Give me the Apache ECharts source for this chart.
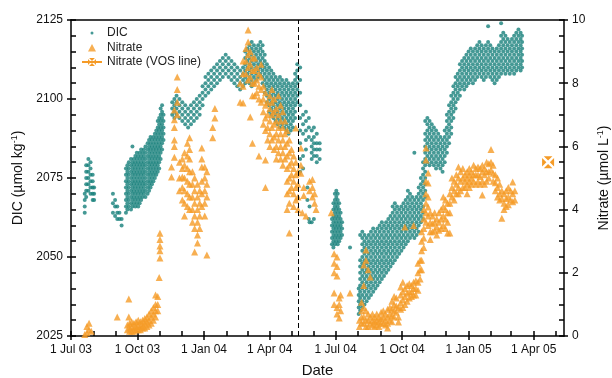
<!DOCTYPE html>
<html>
<head>
<meta charset="utf-8">
<script src="https://cdn.jsdelivr.net/npm/echarts@6/dist/echarts.min.js"></script>
<style>
  html, body { margin: 0; padding: 0; background: #fff; }
  #chart { width: 612px; height: 378px; }
</style>
</head>
<body>
<div id="chart"></div>
<script>
const dateMin = '2003-07-01';
const dateMax = '2005-05-13';
const majorTickDates = ['2003-07-01', '2003-10-01', '2004-01-01', '2004-04-01', '2004-07-01',
  '2004-10-01', '2005-01-01', '2005-04-01'];
const minorTickDates = ['2003-07-01', '2003-08-01', '2003-09-01', '2003-10-01', '2003-11-01', '2003-12-01',
  '2004-01-01', '2004-02-01', '2004-03-01', '2004-04-01', '2004-05-01', '2004-06-01', '2004-07-01',
  '2004-08-01', '2004-09-01', '2004-10-01', '2004-11-01', '2004-12-01', '2005-01-01', '2005-02-01',
  '2005-03-01', '2005-04-01', '2005-05-01'];
const monthNames = ['Jan', 'Feb', 'Mar', 'Apr', 'May', 'Jun', 'Jul', 'Aug', 'Sep', 'Oct', 'Nov', 'Dec'];
const dicTicks = [2025, 2125, 25];
const nitrateTicks = [0, 10, 2];
const cruiseBreakDate = '2004-05-11';

// DIC (umol/kg), grouped by sampling day
const dicByDay = [
  ['2003-07-20', [2070, 2068, 2066, 2064]],
  ['2003-07-22', [2079, 2077, 2075, 2073, 2071, 2069]],
  ['2003-07-25', [2081, 2079, 2077, 2075, 2073, 2071]],
  ['2003-07-28', [2080, 2078, 2076, 2074, 2072, 2070]],
  ['2003-07-31', [2076, 2074, 2072, 2070, 2068]],
  ['2003-08-02', [2072, 2070, 2068]],
  ['2003-08-28', [2070, 2067, 2064]],
  ['2003-08-31', [2068, 2066, 2063]],
  ['2003-09-03', [2066, 2064, 2062]],
  ['2003-09-06', [2064, 2062]],
  ['2003-09-09', [2062, 2060]],
  ['2003-09-15', [2078, 2076, 2074, 2072, 2070, 2068, 2066, 2064]],
  ['2003-09-17', [2079, 2077, 2075, 2073, 2071, 2069, 2067, 2065]],
  ['2003-09-19', [2080, 2078, 2076, 2074, 2072, 2070, 2068, 2066]],
  ['2003-09-22', [2081, 2079, 2077, 2075, 2073, 2071, 2069, 2067, 2065]],
  ['2003-09-24', [2085, 2080, 2078, 2076, 2074, 2072, 2070, 2068, 2066]],
  ['2003-09-26', [2081, 2079, 2077, 2075, 2073, 2071, 2069, 2067]],
  ['2003-09-28', [2082, 2080, 2078, 2076, 2074, 2072, 2070, 2068, 2066]],
  ['2003-09-30', [2083, 2081, 2079, 2077, 2075, 2073, 2071, 2069, 2067]],
  ['2003-10-02', [2082, 2080, 2078, 2076, 2074, 2072, 2070, 2068, 2066]],
  ['2003-10-04', [2083, 2081, 2079, 2077, 2075, 2073, 2071, 2069, 2067]],
  ['2003-10-06', [2084, 2082, 2080, 2078, 2076, 2074, 2072, 2070, 2068]],
  ['2003-10-08', [2083, 2081, 2079, 2077, 2075, 2073, 2071, 2069]],
  ['2003-10-10', [2084, 2082, 2080, 2078, 2076, 2074, 2072, 2070]],
  ['2003-10-12', [2085, 2083, 2081, 2079, 2077, 2075, 2073, 2071, 2069]],
  ['2003-10-15', [2086, 2084, 2082, 2080, 2078, 2076, 2074, 2072, 2070]],
  ['2003-10-17', [2087, 2085, 2083, 2081, 2079, 2077, 2075, 2073, 2071]],
  ['2003-10-19', [2088, 2086, 2084, 2082, 2080, 2078, 2076, 2074, 2072]],
  ['2003-10-21', [2087, 2085, 2083, 2081, 2079, 2077, 2075, 2073]],
  ['2003-10-23', [2088, 2086, 2084, 2082, 2080, 2078, 2076, 2074]],
  ['2003-10-25', [2089, 2087, 2085, 2083, 2081, 2079, 2077, 2075]],
  ['2003-10-27', [2090, 2088, 2086, 2084, 2082, 2080, 2078, 2076]],
  ['2003-10-29', [2093, 2091, 2089, 2087, 2085, 2083, 2081, 2079, 2077]],
  ['2003-10-31', [2094, 2092, 2090, 2088, 2086, 2084, 2082, 2080, 2078]],
  ['2003-11-02', [2097, 2095, 2093, 2091, 2089, 2087, 2085, 2083, 2081]],
  ['2003-11-04', [2098, 2096, 2094, 2092, 2090, 2088, 2086, 2084]],
  ['2003-11-06', [2095, 2093, 2091, 2089, 2087]],
  ['2003-11-18', [2099, 2097, 2095]],
  ['2003-11-21', [2100, 2098, 2096, 2094]],
  ['2003-11-24', [2101, 2099, 2097, 2095]],
  ['2003-11-28', [2100, 2098, 2096, 2094]],
  ['2003-12-02', [2099, 2097, 2095, 2093]],
  ['2003-12-06', [2098, 2096, 2094, 2092]],
  ['2003-12-10', [2097, 2095, 2093, 2091]],
  ['2003-12-14', [2098, 2096, 2094, 2092]],
  ['2003-12-18', [2099, 2097, 2095, 2093]],
  ['2003-12-22', [2100, 2098, 2096, 2094]],
  ['2003-12-26', [2101, 2099, 2097, 2095]],
  ['2003-12-30', [2104, 2102, 2100, 2098]],
  ['2004-01-03', [2107, 2105, 2103, 2101]],
  ['2004-01-07', [2108, 2106, 2104, 2102]],
  ['2004-01-11', [2109, 2107, 2105, 2103]],
  ['2004-01-15', [2110, 2108, 2106, 2104]],
  ['2004-01-19', [2111, 2109, 2107, 2105]],
  ['2004-01-23', [2112, 2110, 2108, 2106]],
  ['2004-01-27', [2113, 2111, 2109, 2107]],
  ['2004-01-31', [2114, 2112, 2110, 2108]],
  ['2004-02-04', [2113, 2111, 2109, 2107]],
  ['2004-02-08', [2112, 2110, 2108, 2106]],
  ['2004-02-12', [2111, 2109, 2107, 2105]],
  ['2004-02-16', [2110, 2108, 2106, 2104]],
  ['2004-02-20', [2109, 2107, 2105, 2103]],
  ['2004-02-24', [2110, 2108, 2106, 2104]],
  ['2004-02-27', [2115, 2113, 2111, 2109, 2107, 2105]],
  ['2004-03-01', [2116, 2114, 2112, 2110, 2108, 2106]],
  ['2004-03-04', [2117, 2115, 2113, 2111, 2109, 2107, 2105]],
  ['2004-03-07', [2118, 2116, 2114, 2112, 2110, 2108, 2106, 2104]],
  ['2004-03-10', [2117, 2115, 2113, 2111, 2109, 2107, 2105]],
  ['2004-03-13', [2116, 2114, 2112, 2110, 2108, 2106]],
  ['2004-03-16', [2117, 2115, 2113, 2111, 2109, 2107]],
  ['2004-03-19', [2118, 2116, 2114, 2112, 2110, 2108]],
  ['2004-03-22', [2117, 2115, 2113, 2111, 2109, 2107, 2105]],
  ['2004-03-25', [2114, 2112, 2110, 2108, 2106, 2104, 2102]],
  ['2004-03-28', [2111, 2109, 2107, 2105, 2103, 2101, 2099]],
  ['2004-03-31', [2110, 2108, 2106, 2104, 2102, 2100, 2098, 2096]],
  ['2004-04-03', [2109, 2107, 2105, 2103, 2101, 2099, 2097, 2095]],
  ['2004-04-06', [2108, 2106, 2104, 2102, 2100, 2098, 2096, 2094]],
  ['2004-04-09', [2107, 2105, 2103, 2101, 2099, 2097, 2095, 2093]],
  ['2004-04-12', [2106, 2104, 2102, 2100, 2098, 2096, 2094, 2092]],
  ['2004-04-15', [2107, 2105, 2103, 2101, 2099, 2097, 2095, 2093, 2091]],
  ['2004-04-18', [2106, 2104, 2102, 2100, 2098, 2096, 2094, 2092]],
  ['2004-04-21', [2105, 2103, 2101, 2099, 2097, 2095, 2093, 2091]],
  ['2004-04-24', [2106, 2104, 2102, 2100, 2098, 2096, 2094, 2092, 2090]],
  ['2004-04-27', [2105, 2103, 2101, 2099, 2097, 2095, 2093, 2091, 2089]],
  ['2004-04-30', [2104, 2102, 2100, 2098, 2096, 2094, 2092, 2090]],
  ['2004-05-03', [2105, 2103, 2101, 2099, 2097, 2095, 2093, 2091]],
  ['2004-05-06', [2108, 2106, 2104, 2102, 2100, 2098, 2096, 2094]],
  ['2004-05-09', [2111, 2109, 2107, 2105, 2103, 2101, 2099]],
  ['2004-05-13', [2110, 2106, 2102, 2098, 2094, 2090, 2086, 2081, 2077]],
  ['2004-05-17', [2095, 2092, 2089, 2082, 2078]],
  ['2004-05-21', [2096, 2093, 2090, 2087, 2084]],
  ['2004-05-23', [2072, 2068]],
  ['2004-05-25', [2094, 2091, 2088, 2062]],
  ['2004-05-26', [2066, 2061]],
  ['2004-05-29', [2090, 2087, 2085, 2083, 2081, 2061]],
  ['2004-06-01', [2091, 2088, 2086, 2084, 2082, 2062]],
  ['2004-06-05', [2089, 2086, 2084, 2082, 2080]],
  ['2004-06-09', [2086, 2084, 2081]],
  ['2004-06-26', [2062, 2060, 2058, 2056, 2054]],
  ['2004-06-28', [2067, 2065, 2063, 2061, 2059, 2057, 2055, 2053]],
  ['2004-06-30', [2070, 2068, 2066, 2064, 2062, 2060, 2058, 2056, 2054]],
  ['2004-07-02', [2071, 2069, 2067, 2065, 2063, 2061, 2059, 2057, 2055]],
  ['2004-07-04', [2070, 2068, 2066, 2064, 2062, 2060, 2058, 2056, 2054]],
  ['2004-07-06', [2067, 2065, 2063, 2061, 2059, 2057, 2055]],
  ['2004-07-08', [2064, 2062, 2060, 2058, 2056]],
  ['2004-07-10', [2061, 2059, 2057]],
  ['2004-07-21', [2053]],
  ['2004-08-02', [2040, 2038, 2036, 2034, 2032]],
  ['2004-08-04', [2057, 2049, 2047, 2045, 2043, 2041, 2039, 2037, 2035, 2033]],
  ['2004-08-07', [2058, 2056, 2054, 2052, 2050, 2048, 2046, 2044, 2042, 2040, 2038, 2036, 2034]],
  ['2004-08-10', [2057, 2055, 2053, 2051, 2049, 2047, 2045, 2043, 2041, 2039, 2037, 2035]],
  ['2004-08-13', [2056, 2054, 2052, 2050, 2048, 2046, 2044, 2042, 2040, 2038, 2036]],
  ['2004-08-16', [2057, 2055, 2053, 2051, 2049, 2047, 2045, 2043, 2041, 2039, 2037]],
  ['2004-08-19', [2058, 2056, 2054, 2052, 2050, 2048, 2046, 2044, 2042, 2040, 2038]],
  ['2004-08-22', [2059, 2057, 2055, 2053, 2051, 2049, 2047, 2045, 2043, 2041, 2039]],
  ['2004-08-25', [2058, 2056, 2054, 2052, 2050, 2048, 2046, 2044, 2042, 2040]],
  ['2004-08-28', [2059, 2057, 2055, 2053, 2051, 2049, 2047, 2045, 2043, 2041]],
  ['2004-08-31', [2060, 2058, 2056, 2054, 2052, 2050, 2048, 2046, 2044, 2042]],
  ['2004-09-03', [2061, 2059, 2057, 2055, 2053, 2051, 2049, 2047, 2045, 2043]],
  ['2004-09-06', [2060, 2058, 2056, 2054, 2052, 2050, 2048, 2046, 2044]],
  ['2004-09-09', [2061, 2059, 2057, 2055, 2053, 2051, 2049, 2047, 2045]],
  ['2004-09-12', [2062, 2060, 2058, 2056, 2054, 2052, 2050, 2048, 2046]],
  ['2004-09-15', [2063, 2061, 2059, 2057, 2055, 2053, 2051, 2049, 2047]],
  ['2004-09-18', [2066, 2064, 2062, 2060, 2058, 2056, 2054, 2052, 2050, 2048]],
  ['2004-09-21', [2067, 2065, 2063, 2061, 2059, 2057, 2055, 2053, 2051, 2049]],
  ['2004-09-24', [2066, 2064, 2062, 2060, 2058, 2056, 2054, 2052, 2050]],
  ['2004-09-27', [2065, 2063, 2061, 2059, 2057, 2055, 2053, 2051]],
  ['2004-09-30', [2066, 2064, 2062, 2060, 2058, 2056, 2054, 2052]],
  ['2004-10-03', [2067, 2065, 2063, 2061, 2059, 2057, 2055, 2053]],
  ['2004-10-06', [2068, 2066, 2064, 2062, 2060, 2058, 2056, 2054]],
  ['2004-10-09', [2071, 2069, 2067, 2065, 2063, 2061, 2059, 2057, 2055]],
  ['2004-10-12', [2070, 2068, 2066, 2064, 2062, 2060, 2058, 2056]],
  ['2004-10-15', [2069, 2067, 2065, 2063, 2061, 2059, 2057]],
  ['2004-10-18', [2083, 2068, 2066, 2064, 2062, 2060, 2058, 2056]],
  ['2004-10-21', [2069, 2067, 2065, 2063, 2061, 2059, 2057]],
  ['2004-10-24', [2072, 2070, 2068, 2066, 2064, 2062, 2060, 2058]],
  ['2004-10-27', [2075, 2073, 2071, 2069, 2067, 2065, 2063, 2061]],
  ['2004-10-30', [2080, 2078, 2076, 2074, 2072, 2070, 2068, 2066, 2064, 2062]],
  ['2004-11-02', [2093, 2089, 2087, 2085, 2083, 2081, 2079, 2077, 2075, 2073, 2071, 2069]],
  ['2004-11-05', [2094, 2092, 2090, 2088, 2086, 2084, 2082, 2080]],
  ['2004-11-08', [2093, 2091, 2089, 2087, 2085, 2083, 2081, 2079]],
  ['2004-11-11', [2092, 2090, 2088, 2086, 2084, 2082, 2080]],
  ['2004-11-14', [2091, 2089, 2087, 2085, 2083, 2081, 2079]],
  ['2004-11-17', [2090, 2088, 2086, 2084, 2082, 2080, 2078]],
  ['2004-11-20', [2089, 2087, 2085, 2083, 2081, 2079]],
  ['2004-11-23', [2088, 2086, 2084, 2082, 2080, 2078]],
  ['2004-11-26', [2087, 2085, 2083, 2081, 2079, 2077]],
  ['2004-11-29', [2090, 2088, 2086, 2084, 2082, 2080]],
  ['2004-12-02', [2095, 2093, 2091, 2089, 2087, 2085, 2083]],
  ['2004-12-05', [2098, 2096, 2094, 2092, 2090, 2088, 2086]],
  ['2004-12-08', [2101, 2099, 2097, 2095, 2093, 2091, 2089]],
  ['2004-12-11', [2104, 2102, 2100, 2098, 2096, 2094]],
  ['2004-12-14', [2107, 2105, 2103, 2101, 2099, 2097]],
  ['2004-12-17', [2108, 2106, 2104, 2102, 2100]],
  ['2004-12-20', [2111, 2109, 2107, 2105, 2103, 2101]],
  ['2004-12-23', [2112, 2110, 2108, 2106, 2104]],
  ['2004-12-26', [2113, 2111, 2109, 2107, 2105, 2103]],
  ['2004-12-29', [2114, 2112, 2110, 2108, 2106, 2104]],
  ['2005-01-01', [2115, 2113, 2111, 2109, 2107, 2105]],
  ['2005-01-04', [2116, 2114, 2112, 2110, 2108, 2106]],
  ['2005-01-07', [2115, 2113, 2111, 2109, 2107, 2105]],
  ['2005-01-10', [2116, 2114, 2112, 2110, 2108, 2106]],
  ['2005-01-13', [2117, 2115, 2113, 2111, 2109, 2107]],
  ['2005-01-16', [2118, 2116, 2114, 2112, 2110, 2108]],
  ['2005-01-19', [2117, 2115, 2113, 2111, 2109, 2107]],
  ['2005-01-22', [2116, 2114, 2112, 2110, 2108, 2106]],
  ['2005-01-25', [2117, 2115, 2113, 2111, 2109, 2107]],
  ['2005-01-28', [2123, 2118, 2116, 2114, 2112, 2110, 2108]],
  ['2005-01-31', [2117, 2115, 2113, 2111, 2109, 2107]],
  ['2005-02-03', [2116, 2114, 2112, 2110, 2108, 2106]],
  ['2005-02-06', [2115, 2113, 2111, 2109, 2107, 2105]],
  ['2005-02-09', [2116, 2114, 2112, 2110, 2108, 2106]],
  ['2005-02-12', [2117, 2115, 2113, 2111, 2109, 2107]],
  ['2005-02-15', [2124, 2120, 2118, 2116, 2114, 2112, 2110, 2108]],
  ['2005-02-18', [2121, 2119, 2117, 2115, 2113, 2111, 2109]],
  ['2005-02-21', [2120, 2118, 2116, 2114, 2112, 2110, 2108]],
  ['2005-02-24', [2119, 2117, 2115, 2113, 2111, 2109]],
  ['2005-02-27', [2118, 2116, 2114, 2112, 2110, 2108]],
  ['2005-03-02', [2119, 2117, 2115, 2113, 2111, 2109]],
  ['2005-03-05', [2120, 2118, 2116, 2114, 2112, 2110, 2108]],
  ['2005-03-08', [2121, 2119, 2117, 2115, 2113, 2111, 2109]],
  ['2005-03-11', [2122, 2120, 2118, 2116, 2114, 2112, 2110]],
  ['2005-03-14', [2121, 2119, 2117, 2115, 2113, 2111, 2109]],
  ['2005-03-16', [2120, 2118, 2116, 2114, 2112, 2110]]
];

// Nitrate (umol/L), grouped by sampling day
const nitrateByDay = [
  ['2003-07-20', [0.05]],
  ['2003-07-23', [0.3, 0.1]],
  ['2003-07-26', [0.4, 0.2]],
  ['2003-07-29', [0.15]],
  ['2003-09-03', [0.6]],
  ['2003-09-17', [0.35, 0.2]],
  ['2003-09-19', [1.17, 0.6]],
  ['2003-09-20', [0.4, 0.25, 0.15]],
  ['2003-09-23', [0.45, 0.3, 0.15]],
  ['2003-09-26', [0.4, 0.25, 0.15]],
  ['2003-09-29', [0.45, 0.3, 0.2]],
  ['2003-10-02', [0.5, 0.35, 0.2]],
  ['2003-10-05', [0.45, 0.3, 0.2]],
  ['2003-10-08', [0.5, 0.35, 0.25]],
  ['2003-10-11', [0.55, 0.4, 0.25]],
  ['2003-10-14', [0.6, 0.45, 0.3]],
  ['2003-10-17', [0.7, 0.5, 0.35]],
  ['2003-10-20', [0.8, 0.6, 0.4]],
  ['2003-10-23', [0.9, 0.7, 0.5]],
  ['2003-10-26', [1.3, 1.0, 0.8, 0.6]],
  ['2003-10-29', [1.25, 1.0, 0.8]],
  ['2003-10-31', [1.85]],
  ['2003-11-01', [3.25, 3.05, 2.85, 2.7, 2.47]],
  ['2003-11-17', [5.35, 5.03]],
  ['2003-11-21', [7.15, 6.84, 6.6, 6.2, 6.0, 5.66]],
  ['2003-11-25', [8.2, 7.8, 7.4, 7.0]],
  ['2003-11-28', [5.5, 5.0, 4.6]],
  ['2003-12-02', [5.6, 5.3, 5.03, 4.7, 4.3]],
  ['2003-12-05', [5.8, 5.4, 5.0, 4.6, 4.2, 3.8]],
  ['2003-12-09', [6.1, 5.7, 5.3, 4.9, 4.5, 4.1]],
  ['2003-12-12', [6.27, 5.9, 5.6, 5.2, 4.8, 4.4, 4.0]],
  ['2003-12-16', [5.2, 4.8, 4.4, 4.0, 3.6]],
  ['2003-12-19', [5.0, 4.6, 4.2, 3.8, 3.4, 2.66]],
  ['2003-12-23', [4.8, 4.4, 4.0, 3.6, 3.2, 2.94]],
  ['2003-12-26', [4.6, 4.2, 3.8, 3.4]],
  ['2003-12-29', [5.95, 5.6, 5.35, 4.9, 4.5, 4.1]],
  ['2004-01-02', [5.35, 5.0, 4.6, 4.2, 3.8]],
  ['2004-01-05', [5.2, 4.8, 4.4, 2.56]],
  ['2004-01-13', [6.6, 6.27]],
  ['2004-01-16', [7.2, 6.9]],
  ['2004-02-20', [8.0, 7.4]],
  ['2004-02-24', [8.7, 8.3, 7.9, 7.37]],
  ['2004-02-28', [9.1, 8.7, 8.3]],
  ['2004-03-02', [9.68, 9.3, 8.9, 8.5, 8.1]],
  ['2004-03-05', [9.0, 8.6, 8.2, 6.93]],
  ['2004-03-08', [8.8, 8.4, 8.0, 7.6, 6.1]],
  ['2004-03-11', [8.8, 8.4, 8.0, 7.6]],
  ['2004-03-14', [8.5, 8.1, 7.7]],
  ['2004-03-17', [8.3, 7.9, 7.5, 5.7]],
  ['2004-03-20', [8.6, 8.2, 7.8, 7.4]],
  ['2004-03-23', [7.9, 7.5, 7.1, 6.7]],
  ['2004-03-26', [7.7, 7.3, 6.9, 6.5, 5.57, 4.7]],
  ['2004-03-29', [7.4, 7.0, 6.6, 6.2]],
  ['2004-04-01', [7.6, 7.2, 6.8, 6.4, 6.0]],
  ['2004-04-04', [7.8, 7.4, 7.0, 6.6, 6.2]],
  ['2004-04-07', [7.5, 7.1, 6.7, 6.3, 5.9]],
  ['2004-04-10', [7.2, 6.8, 6.4, 6.0, 5.6]],
  ['2004-04-13', [7.6, 7.0, 6.6, 6.2, 5.8]],
  ['2004-04-16', [7.3, 6.8, 6.4, 6.0, 5.6]],
  ['2004-04-19', [7.1, 6.6, 6.2, 5.8, 5.4]],
  ['2004-04-22', [6.8, 6.4, 6.0, 5.6]],
  ['2004-04-25', [6.5, 6.1, 5.7, 5.3, 4.9, 4.5, 4.0]],
  ['2004-04-28', [6.2, 5.8, 5.4, 5.0, 4.6, 4.2, 3.26]],
  ['2004-05-01', [5.9, 5.5, 5.1, 4.7]],
  ['2004-05-04', [5.7, 5.3, 4.9, 4.5, 4.1]],
  ['2004-05-07', [6.58, 5.5, 5.1, 4.7, 4.3]],
  ['2004-05-10', [5.2, 4.8, 4.4, 4.0]],
  ['2004-05-14', [5.95, 5.4, 5.15]],
  ['2004-05-16', [3.9]],
  ['2004-05-18', [4.7, 4.45]],
  ['2004-05-21', [3.8]],
  ['2004-05-26', [4.9, 4.6]],
  ['2004-05-30', [4.95, 4.7, 4.4]],
  ['2004-06-02', [4.5, 4.2]],
  ['2004-06-04', [4.0]],
  ['2004-06-25', [3.9]],
  ['2004-06-29', [2.6, 2.3, 2.0, 1.36, 1.0]],
  ['2004-07-03', [2.5, 2.2, 1.9, 0.9, 0.7]],
  ['2004-07-06', [1.2, 1.0, 0.57]],
  ['2004-07-08', [1.3, 0.8]],
  ['2004-07-21', [1.36]],
  ['2004-08-03', [0.5, 0.3]],
  ['2004-08-06', [1.07, 0.8, 0.6, 0.41]],
  ['2004-08-09', [2.25, 1.6, 0.9, 0.6, 0.4]],
  ['2004-08-12', [2.72, 2.4, 0.8, 0.5, 0.3]],
  ['2004-08-15', [2.1, 0.7, 0.5, 0.3]],
  ['2004-08-18', [1.87, 0.6, 0.4]],
  ['2004-08-21', [0.7, 0.5, 0.35]],
  ['2004-08-24', [0.6, 0.45, 0.3]],
  ['2004-08-27', [0.7, 0.5, 0.35]],
  ['2004-08-30', [0.6, 0.45, 0.3]],
  ['2004-09-02', [0.75, 0.55, 0.4]],
  ['2004-09-05', [0.8, 0.6, 0.4]],
  ['2004-09-08', [0.7, 0.5, 0.35]],
  ['2004-09-11', [0.85, 0.6, 0.4, 0.25]],
  ['2004-09-14', [0.9, 0.7, 0.5]],
  ['2004-09-17', [1.1, 0.85, 0.65, 0.45]],
  ['2004-09-20', [1.25, 1.0, 0.8, 0.6]],
  ['2004-09-23', [1.2, 0.95, 0.75]],
  ['2004-09-26', [0.9, 0.6, 0.44]],
  ['2004-09-29', [1.55, 1.3, 1.05, 0.85]],
  ['2004-10-02', [1.7, 1.4, 1.15, 0.9]],
  ['2004-10-05', [3.45, 1.5, 1.25, 1.0]],
  ['2004-10-08', [1.6, 1.35, 1.1]],
  ['2004-10-11', [1.65, 1.4, 1.2]],
  ['2004-10-14', [1.6, 1.4, 1.25]],
  ['2004-10-17', [3.5, 1.7, 1.5, 1.3]],
  ['2004-10-20', [1.75, 1.5, 1.3]],
  ['2004-10-23', [2.3, 2.0, 1.7, 1.45]],
  ['2004-10-26', [2.4, 2.1, 1.8]],
  ['2004-10-28', [3.3, 3.0, 2.7, 2.4, 2.1]],
  ['2004-10-31', [4.0, 3.7, 3.4, 3.1, 2.8]],
  ['2004-11-03', [5.95, 5.57, 4.9, 4.5, 4.2, 3.9, 3.6]],
  ['2004-11-06', [5.16, 4.84, 4.4, 4.08, 3.8, 3.5]],
  ['2004-11-09', [3.9, 3.6, 3.3, 3.05]],
  ['2004-11-12', [3.8, 3.55, 3.3]],
  ['2004-11-15', [3.9, 3.6, 3.35]],
  ['2004-11-18', [3.7, 3.45, 3.2]],
  ['2004-11-21', [3.9, 3.6, 3.35]],
  ['2004-11-24', [4.0, 3.7, 3.4]],
  ['2004-11-27', [4.4, 4.1, 3.8, 3.5]],
  ['2004-11-30', [4.3, 4.0, 3.7, 3.4]],
  ['2004-12-03', [4.2, 3.9, 3.6, 3.26]],
  ['2004-12-06', [4.5, 4.2, 3.9, 3.26]],
  ['2004-12-09', [5.0, 4.7, 4.4]],
  ['2004-12-12', [4.9, 4.6, 4.3]],
  ['2004-12-15', [5.1, 4.8, 4.5]],
  ['2004-12-18', [5.35, 5.0, 4.7, 4.5]],
  ['2004-12-21', [5.2, 4.9, 4.6]],
  ['2004-12-24', [5.3, 5.0, 4.7]],
  ['2004-12-27', [5.1, 4.9, 4.7]],
  ['2004-12-30', [5.2, 5.0, 4.8, 4.5]],
  ['2005-01-02', [5.3, 5.1, 4.9, 4.7]],
  ['2005-01-05', [5.2, 5.0, 4.8]],
  ['2005-01-08', [5.4, 5.1, 4.9]],
  ['2005-01-11', [5.3, 5.1, 4.8]],
  ['2005-01-14', [5.35, 5.1, 4.9]],
  ['2005-01-17', [5.3, 5.05, 4.8]],
  ['2005-01-20', [5.4, 5.2, 4.9, 4.46]],
  ['2005-01-23', [5.3, 5.1, 4.8]],
  ['2005-01-26', [5.5, 5.2, 4.9]],
  ['2005-01-29', [5.45, 5.2, 5.0]],
  ['2005-02-01', [5.9, 5.5, 5.25]],
  ['2005-02-04', [5.4, 5.15, 4.9]],
  ['2005-02-07', [5.1, 4.85, 4.6]],
  ['2005-02-10', [5.0, 4.7, 4.4]],
  ['2005-02-13', [4.8, 4.5, 4.3]],
  ['2005-02-16', [4.6, 4.35, 3.73]],
  ['2005-02-19', [4.5, 4.2, 4.0]],
  ['2005-02-22', [4.6, 4.35, 4.1]],
  ['2005-02-25', [4.7, 4.4, 4.15]],
  ['2005-02-28', [4.6, 4.3]],
  ['2005-03-03', [4.87, 4.5, 4.25]],
  ['2005-03-06', [4.6, 4.3]]
];

// single VOS line nitrate value
const vosNitrate = [['2005-04-21', 5.5]];

const teal = '#17807b';
const orange = '#f59b27';
const axisColor = '#000';
const font = 'Liberation Sans, Arial, sans-serif';

function toTime(s) {
  const [y, m, d] = s.split('-').map(Number);
  return new Date(y, m - 1, d).getTime();
}

function flatten(byDay) {
  return byDay.flatMap(([day, values]) => values.map(v => [toTime(day), v]));
}

function dateLabel(value) {
  const d = new Date(value);
  return d.getDate() + ' ' + monthNames[d.getMonth()] + ' ' + String(d.getFullYear()).slice(2);
}

// square marker with a white cross through it
const crossSymbol = 'path://M1.4,0L8.6,0L5,3.6Z M10,1.4L10,8.6L6.4,5Z M1.4,10L8.6,10L5,6.4Z M0,1.4L0,8.6L3.6,5Z';
const dotIcon = 'path://M0,0M10,10M3.5,5a1.5,1.5 0 1,0 3,0a1.5,1.5 0 1,0 -3,0Z';
const triIcon = 'path://M0,0M10,10M1,9L5,1.5L9,9Z';

const chart = echarts.init(document.getElementById('chart'), null, { renderer: 'canvas' });

const lineStyle = { color: axisColor, width: 1.5 };
const xMin = toTime(dateMin);
const xMax = toTime(dateMax);
const supRich = {
  t: { fontSize: 14, color: '#111', fontFamily: font, lineHeight: 16 },
  s: { fontSize: 9, color: '#111', fontFamily: font, lineHeight: 9, verticalAlign: 'top' }
};

const option = {
  animation: false,
  backgroundColor: '#fff',
  textStyle: { fontFamily: font },
  grid: { left: 71, right: 48, top: 20, bottom: 42, outerBoundsMode: 'none' },
  legend: {
    orient: 'vertical',
    left: 76,
    top: 22,
    itemWidth: 20,
    itemHeight: 10,
    itemGap: 2.5,
    textStyle: { fontSize: 12, color: '#222', fontFamily: font },
    data: [
      { name: 'DIC', icon: dotIcon },
      { name: 'Nitrate', icon: triIcon },
      { name: 'Nitrate (VOS line)' }
    ]
  },
  xAxis: [
    {
      type: 'value', position: 'bottom', min: xMin, max: xMax,
      axisLine: { lineStyle },
      axisTick: { show: true, inside: false, length: 4, lineStyle, customValues: majorTickDates.map(toTime) },
      axisLabel: {
        customValues: majorTickDates.map(toTime), formatter: dateLabel,
        fontSize: 12, color: '#111', margin: 8, hideOverlap: false
      },
      splitLine: { show: false },
      name: 'Date', nameLocation: 'middle', nameGap: 27,
      nameTextStyle: { fontSize: 15, color: '#111', fontFamily: font }
    },
    {
      type: 'value', position: 'bottom', min: xMin, max: xMax,
      axisLine: { show: false },
      axisTick: { show: true, inside: true, length: 5, lineStyle, customValues: minorTickDates.map(toTime) },
      axisLabel: { show: false },
      splitLine: { show: false }
    },
    {
      type: 'value', position: 'top', min: xMin, max: xMax,
      axisLine: { lineStyle },
      axisTick: { show: false },
      axisLabel: { show: false },
      splitLine: { show: false }
    }
  ],
  yAxis: [
    {
      type: 'value', position: 'left', min: dicTicks[0], max: dicTicks[1], interval: dicTicks[2],
      axisLine: { show: true, lineStyle },
      axisTick: { show: true, inside: false, length: 4, lineStyle },
      axisLabel: { fontSize: 12, color: '#111', margin: 8, formatter: v => String(v) },
      splitLine: { show: false },
      name: '{t|DIC (µmol kg}{s|-1}{t|)}', nameLocation: 'middle', nameGap: 37, nameRotate: 90,
      nameTextStyle: { rich: supRich }
    },
    {
      type: 'value', position: 'left', min: dicTicks[0], max: dicTicks[1], interval: 5,
      axisLine: { show: false },
      axisTick: { show: true, inside: true, length: 5, lineStyle },
      axisLabel: { show: false },
      splitLine: { show: false }
    },
    {
      type: 'value', position: 'right', min: nitrateTicks[0], max: nitrateTicks[1], interval: nitrateTicks[2],
      axisLine: { show: true, lineStyle },
      axisTick: { show: true, inside: false, length: 4, lineStyle },
      axisLabel: { fontSize: 12, color: '#111', margin: 8 },
      splitLine: { show: false },
      name: '{t|Nitrate (µmol L}{s|-1}{t|)}', nameLocation: 'middle', nameGap: 25, nameRotate: 90,
      nameTextStyle: { rich: supRich }
    },
    {
      type: 'value', position: 'right', min: nitrateTicks[0], max: nitrateTicks[1], interval: 0.5,
      axisLine: { show: false },
      axisTick: { show: true, inside: true, length: 5, lineStyle },
      axisLabel: { show: false },
      splitLine: { show: false }
    }
  ],
  series: [
    {
      name: 'DIC',
      type: 'scatter',
      xAxisIndex: 0,
      yAxisIndex: 0,
      symbol: 'circle',
      symbolSize: 4,
      itemStyle: { color: teal },
      data: flatten(dicByDay),
      markLine: {
        silent: true,
        symbol: ['none', 'none'],
        label: { show: false },
        lineStyle: { color: '#000', width: 1, type: [5, 3] },
        data: [{ xAxis: toTime(cruiseBreakDate) }]
      }
    },
    {
      name: 'Nitrate',
      type: 'scatter',
      xAxisIndex: 0,
      yAxisIndex: 2,
      symbol: 'triangle',
      symbolSize: 7,
      itemStyle: { color: orange },
      data: flatten(nitrateByDay)
    },
    {
      name: 'Nitrate (VOS line)',
      type: 'line',
      xAxisIndex: 0,
      yAxisIndex: 2,
      symbol: crossSymbol,
      symbolSize: 12,
      itemStyle: { color: orange },
      lineStyle: { color: orange, width: 1.5 },
      data: vosNitrate.map(([d, v]) => [toTime(d), v])
    }
  ]
};

chart.setOption(option);
</script>
</body>
</html>
